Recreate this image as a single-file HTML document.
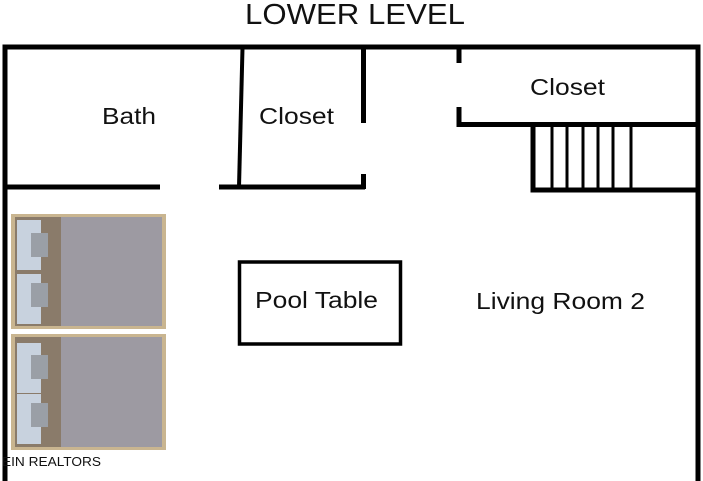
<!DOCTYPE html>
<html><head><style>
body{margin:0;width:703px;height:481px;overflow:hidden;background:#fff;font-family:"Liberation Sans",sans-serif;}
svg{position:absolute;left:0;top:0}
text{font-family:"Liberation Sans",sans-serif;fill:#111}
</style></head><body>
<svg width="703" height="481" viewBox="0 0 703 481">
<text x="245" y="24" font-size="29" textLength="220" lengthAdjust="spacingAndGlyphs">LOWER LEVEL</text>
<g stroke="#000" stroke-width="5" fill="none">
<path d="M5 484 V47 H698 V484"/>
<path d="M5 187 H160 M219 187 H365"/>
<path d="M242.5 48 L239 187" stroke-width="4"/>
<path d="M363.5 48 V123 M363.5 174 V189"/>
<path d="M459 48 V63 M459 107 V124.5 H698"/>
<path d="M533 124 V190 H698"/>
</g>
<g stroke="#000" stroke-width="3">
<path d="M552 124V189M567 124V189M583 124V189M598 124V189M613 124V189M631 124V189"/>
</g>
<rect x="239.5" y="262" width="161" height="82" fill="none" stroke="#000" stroke-width="3.5"/>
<text x="102" y="124" font-size="23" textLength="54" lengthAdjust="spacingAndGlyphs">Bath</text>
<text x="259" y="124" font-size="23" textLength="75" lengthAdjust="spacingAndGlyphs">Closet</text>
<text x="530" y="95" font-size="23" textLength="75" lengthAdjust="spacingAndGlyphs">Closet</text>
<text x="255" y="308" font-size="23" textLength="123" lengthAdjust="spacingAndGlyphs">Pool Table</text>
<text x="476" y="309" font-size="23" textLength="169" lengthAdjust="spacingAndGlyphs">Living Room 2</text>
<g>
<rect x="11" y="214" width="155" height="115" fill="#c9b590"/>
<rect x="15" y="217" width="46" height="109" fill="#8a7b6a"/>
<rect x="61" y="217" width="101" height="109" fill="#9d9aa2"/>
<rect x="17" y="220" width="24" height="50" fill="#c8d2de"/><rect x="31" y="233" width="17" height="24" fill="#9a9fa6"/>
<rect x="17" y="274" width="24" height="50" fill="#c8d2de"/><rect x="31" y="283" width="17" height="24" fill="#9a9fa6"/>
<rect x="11" y="334" width="155" height="116" fill="#c9b590"/>
<rect x="15" y="337" width="46" height="110" fill="#8a7b6a"/>
<rect x="61" y="337" width="101" height="110" fill="#9d9aa2"/>
<rect x="17" y="343" width="24" height="50" fill="#c8d2de"/><rect x="31" y="355" width="17" height="24" fill="#9a9fa6"/>
<rect x="17" y="394" width="24" height="50" fill="#c8d2de"/><rect x="31" y="403" width="17" height="24" fill="#9a9fa6"/>
</g>
<text x="2" y="466" font-size="13" fill="#333" textLength="99" lengthAdjust="spacingAndGlyphs">EIN REALTORS</text>
</svg>
</body></html>
